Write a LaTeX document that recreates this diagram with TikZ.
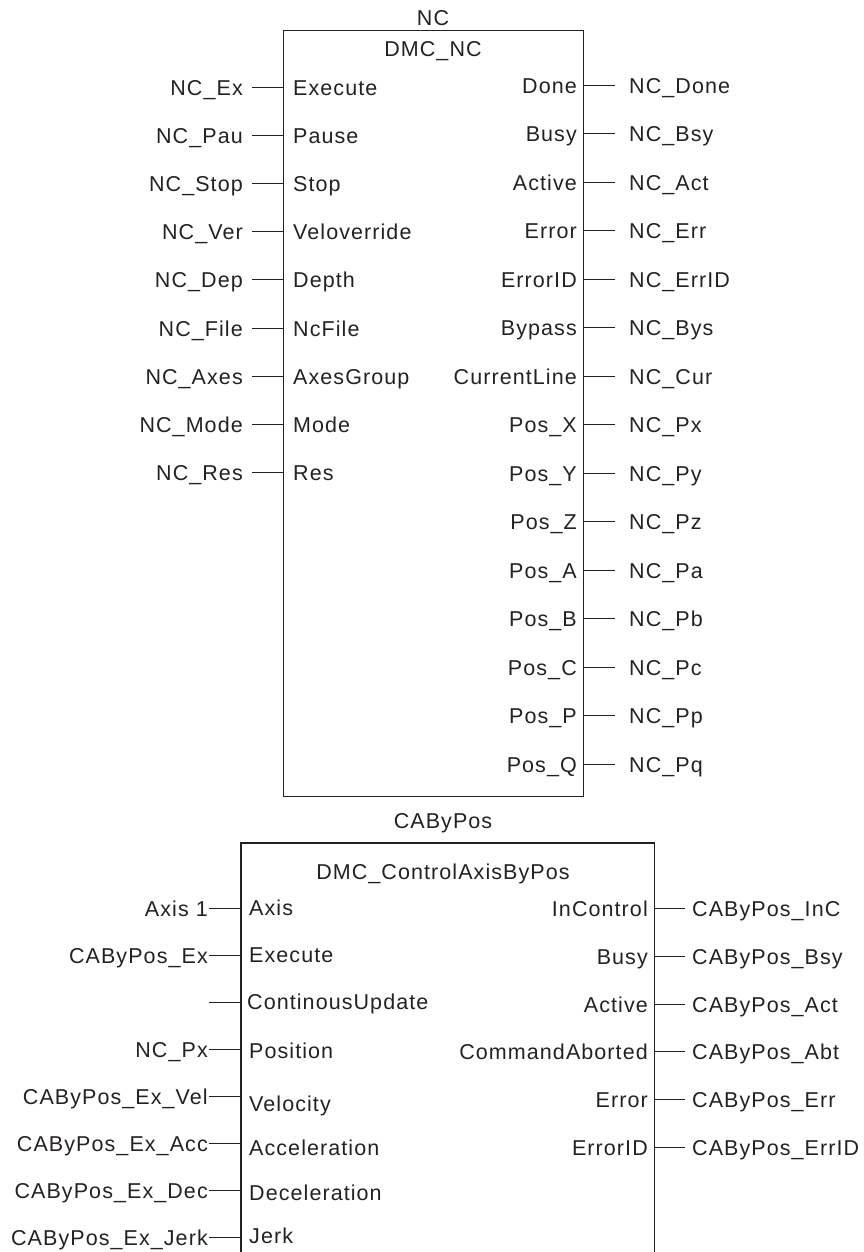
\documentclass[tikz,border=0pt]{standalone}
\usepackage{fontspec}
\setmainfont{Liberation Sans}[LetterSpace=5]
\definecolor{ink}{RGB}{38,33,33}
\begin{document}
\begin{tikzpicture}[x=1pt,y=-1pt,
  every node/.style={font=\fontsize{21.5}{24}\selectfont, text=ink, inner sep=0pt, text height=15.5pt, text depth=0pt},
  wire/.style={draw=ink, line width=1pt},
  boxline/.style={draw=ink, line width=1.3pt},
  pinL/.style={anchor=west},
  pinR/.style={anchor=east},
  extL/.style={anchor=east},
  extR/.style={anchor=west}]
\useasboundingbox (0,0) rectangle (863,1252);

% ---------- DMC_NC block ----------
\node[boxline, anchor=north west, minimum width=300pt, minimum height=766pt] (nc) at (283,30) {};
\node (nctitle) at (433,18) {NC};
\node (ncname) at (433,49) {DMC\_NC};

\foreach \o/\p [count=\k from 0] in {NC\_Ex/Execute, NC\_Pau/Pause, NC\_Stop/Stop, NC\_Ver/Veloverride, NC\_Dep/Depth, NC\_File/NcFile, NC\_Axes/AxesGroup, NC\_Mode/Mode, NC\_Res/Res}{
  \pgfmathsetmacro{\yy}{round(87+48.1*\k)+0.5}
  \node[extL, inner xsep=9pt] (nci\k) at (252,\yy) {\o};
  \node[pinL] (ncp\k) at (293,\yy) {\p};
  \draw[wire] (nci\k.east) -- (nci\k.east -| nc.west);
}

\foreach \p/\o [count=\k from 0] in {Done/NC\_Done, Busy/NC\_Bsy, Active/NC\_Act, Error/NC\_Err, ErrorID/NC\_ErrID, Bypass/NC\_Bys, CurrentLine/NC\_Cur, Pos\_X/NC\_Px, Pos\_Y/NC\_Py, Pos\_Z/NC\_Pz, Pos\_A/NC\_Pa, Pos\_B/NC\_Pb, Pos\_C/NC\_Pc, Pos\_P/NC\_Pp, Pos\_Q/NC\_Pq}{
  \pgfmathsetmacro{\yy}{round(84.5+48.5*\k)+0.5}
  \node[pinR] (ncq\k) at (577,\yy) {\p};
  \node[extR, inner xsep=14pt] (nco\k) at (615,\yy) {\o};
  \draw[wire] (nco\k.west) -- (nco\k.west -| nc.east);
}

% ---------- DMC_ControlAxisByPos block ----------
\node[anchor=north west, minimum width=413pt, minimum height=409pt] (cab) at (241,843) {};
\draw[boxline] (cab.south west) -- (cab.north west) -- (cab.north east) -- (cab.south east);
\node (cabtitle) at (443,821) {CAByPos};
\node (cabname) at (443,872) {DMC\_ControlAxisByPos};

\foreach \o/\yo/\p/\yp [count=\k from 0] in {Axis 1/908.5/Axis/908, CAByPos\_Ex/955.5/Execute/955, Position/1049.5/Position/1051, CAByPos\_Ex\_Vel/1096.5/Velocity/1104, CAByPos\_Ex\_Acc/1143.5/Acceleration/1148, CAByPos\_Ex\_Dec/1190.5/Deceleration/1193, CAByPos\_Ex\_Jerk/1237.5/Jerk/1236}{
  \node[extL, inner xsep=1pt] (cai\k) at (209,\yo) {\ifnum\k=2 NC\_Px\else\o\fi};
  \node[pinL] (cap\k) at (249,\yp) {\p};
  \draw[wire] (cai\k.east) -- (cai\k.east -| cab.west);
}
\coordinate (cu) at (209,1002.5);
\node[pinL] (capcu) at (247,1002) {ContinousUpdate};
\draw[wire] (cu) -- (cu -| cab.west);

\foreach \p/\o [count=\k from 0] in {InControl/CAByPos\_InC, Busy/CAByPos\_Bsy, Active/CAByPos\_Act, CommandAborted/CAByPos\_Abt, Error/CAByPos\_Err, ErrorID/CAByPos\_ErrID}{
  \pgfmathsetmacro{\yy}{round(908+47.8*\k)+0.5}
  \node[pinR] (caq\k) at (648,\yy) {\p};
  \node[extR, inner xsep=7pt] (cao\k) at (685,\yy) {\o};
  \draw[wire] (cao\k.west) -- (cao\k.west -| cab.east);
}
\end{tikzpicture}
\end{document}
